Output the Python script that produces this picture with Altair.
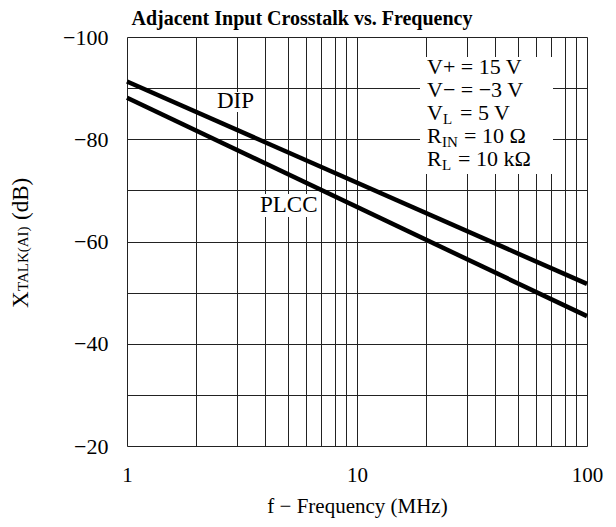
import altair as alt
import pandas as pd

# ---- data ----
freq_mhz = [1, 100]
dip_db = [-91.3, -51.7]
plcc_db = [-88.1, -45.4]

x_grid = [1, 2, 3, 4, 5, 6, 7, 8, 9, 10, 20, 30, 40, 50, 60, 70, 80, 90, 100]
y_grid = [-100, -90, -80, -70, -60, -50, -40, -30, -20]

FONT = "Liberation Serif"
W, H = 460, 409

lines_df = pd.DataFrame({
    "f": freq_mhz * 2,
    "db": dip_db + plcc_db,
    "pkg": ["DIP"] * 2 + ["PLCC"] * 2,
})

x_enc = alt.X(
    "f:Q",
    scale=alt.Scale(type="log", domain=[1, 100]),
    axis=alt.Axis(
        values=x_grid,
        labelExpr="(datum.value==1||datum.value==10||datum.value==100) ? format(datum.value,'d') : ''",
        title="f \u2212 Frequency (MHz)",
        grid=True, ticks=False, domain=False,
        labelPadding=18, titlePadding=10, labelFlush=False, labelOverlap=False,
        labelFont=FONT, labelFontSize=21, titleFont=FONT, titleFontSize=21,
        titleFontWeight="normal", labelColor="black", titleColor="black",
        gridColor="#222", gridWidth=1, gridOpacity=1,
    ),
)
y_enc = alt.Y(
    "db:Q",
    scale=alt.Scale(domain=[-100, -20], reverse=True, nice=False),
    axis=alt.Axis(
        values=y_grid,
        labelExpr="(datum.value % 20 == 0) ? format(datum.value,'d') : ''",
        title=None,
        grid=True, ticks=False, domain=False,
        labelPadding=19, labelFlush=False, labelOverlap=False,
        labelFont=FONT, labelFontSize=22, labelColor="black",
        gridColor="#222", gridWidth=1, gridOpacity=1,
    ),
)

lines = alt.Chart(lines_df).mark_line(color="black", strokeWidth=4.5, strokeCap="butt").encode(
    x=x_enc, y=y_enc, detail="pkg:N"
)

# white boxes behind annotation text
boxes_df = pd.DataFrame({
    "x": [293, 88, 131], "x2": [426, 130, 194],
    "y": [20, 55, 157], "y2": [137, 75, 180],
})
boxes = alt.Chart(boxes_df).mark_rect(color="white").encode(
    x=alt.X("x:Q", scale=None), x2="x2:Q",
    y=alt.Y("y:Q", scale=None), y2="y2:Q",
)

def txt(df, size, **kw):
    return alt.Chart(df).mark_text(font=FONT, fontSize=size, color="black", **kw).encode(
        x=alt.X("x:Q", scale=None), y=alt.Y("y:Q", scale=None), text="t:N"
    )

cond_df = pd.DataFrame({
    "t": ["V+ = 15 V", "V\u2212 = \u22123 V", "V", "= 5 V", "R", "= 10 \u03a9", "R", "= 10 k\u03a9"],
    "x": [300, 300, 300, 333, 300, 337, 300, 331],
    "y": [37, 60, 83, 83, 106, 106, 129, 129],
})
sub_df = pd.DataFrame({
    "t": ["L", "IN", "L"],
    "x": [316, 315, 315],
    "y": [87, 110, 133],
})
pkg_df = pd.DataFrame({"t": ["DIP", "PLCC"], "x": [90, 133], "y": [71, 175]})
cond_text = txt(cond_df, 22, align="left", baseline="alphabetic")
sub_text = txt(sub_df, 15, align="left", baseline="alphabetic")
pkg_text = txt(pkg_df, 23, align="left", baseline="alphabetic")

# y axis title with subscript
ytitle_df = pd.DataFrame({"t": ["X", "(dB)"], "x": [-99, -99], "y": [271, 183]})
ysub_df = pd.DataFrame({"t": ["TALK(AI)"], "x": [-99], "y": [254]})
ytitle = txt(ytitle_df, 23, align="left", baseline="alphabetic", angle=270)
ysub = txt(ysub_df, 15, align="left", baseline="alphabetic", angle=270)

title_df = pd.DataFrame({"t": ["Adjacent Input Crosstalk vs. Frequency"], "x": [175], "y": [-12]})
title = txt(title_df, 20, align="center", baseline="alphabetic", fontWeight="bold")

chart = alt.layer(lines, boxes, cond_text, sub_text, pkg_text, ytitle, ysub, title).properties(
    width=W, height=H,
    autosize="none",
    padding={"left": 119, "top": 29, "right": 21, "bottom": 73},
).configure_view(stroke="black", strokeWidth=1.2).configure(background="white")

chart.save("out.html", embed_options={"renderer": "svg", "actions": False})
